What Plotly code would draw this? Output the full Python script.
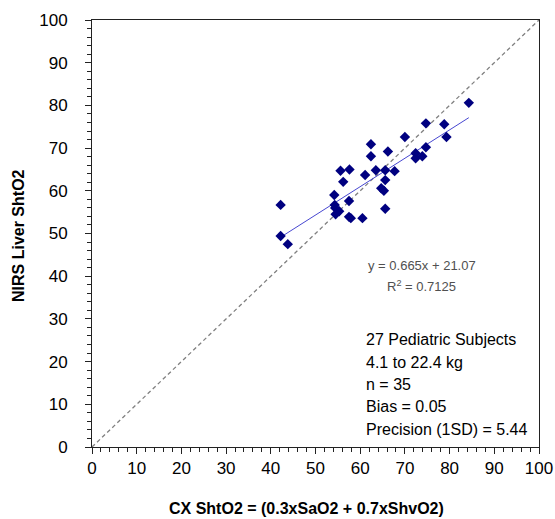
import plotly.graph_objects as go

# Data
cx_shto2 = [42.2, 42.2, 43.8, 54.2, 54.3, 54.4, 55.3, 54.5, 55.6, 56.2, 57.6, 57.5,
            57.5, 57.9, 60.5, 61.1, 62.4, 62.4, 63.5, 64.7, 65.3, 65.6, 65.6, 65.6,
            66.2, 67.7, 70.0, 72.4, 72.4, 73.9, 74.7, 74.7, 78.8, 79.3, 84.3]
nirs_shto2 = [56.7, 49.4, 47.5, 59.0, 56.7, 56.0, 55.2, 54.5, 64.7, 62.1, 65.0, 57.6,
              53.9, 53.6, 53.6, 63.7, 70.9, 68.1, 64.8, 60.6, 60.0, 64.8, 62.5, 55.8,
              69.2, 64.6, 72.6, 68.8, 67.6, 68.1, 70.2, 75.8, 75.6, 72.6, 80.6]

slope = 0.665
intercept = 21.07
r_squared = 0.7125
identity = [0, 100]

stats_lines = ["27 Pediatric Subjects", "4.1 to 22.4 kg", "n = 35",
               "Bias = 0.05", "Precision (1SD) = 5.44"]
stats_y = [25.1, 19.9, 14.75, 9.4, 4.0]

FONT = "Liberation Sans, Arial, sans-serif"

x_min, x_max = min(cx_shto2), max(cx_shto2)
trend_x = [x_min, x_max]
trend_y = [slope * v + intercept for v in trend_x]

fig = go.Figure()
fig.add_trace(go.Scatter(x=identity, y=identity, mode="lines",
                         line=dict(color="#808080", width=1.3, dash="4px,3px"),
                         hoverinfo="skip"))
fig.add_trace(go.Scatter(x=trend_x, y=trend_y, mode="lines",
                         line=dict(color="#4747d1", width=1)))
fig.add_trace(go.Scatter(x=cx_shto2, y=nirs_shto2, mode="markers",
                         marker=dict(symbol="diamond", size=8, color="#000080",
                                     line=dict(width=0))))

axis_common = dict(range=[0, 100], dtick=10, showgrid=False, zeroline=False,
                   showline=True, linecolor="#222222", linewidth=1, mirror=True,
                   ticks="outside", ticklen=6, tickcolor="#222222", automargin=False,
                   minor=dict(dtick=2, ticks="outside", ticklen=4, tickcolor="#222222"),
                   tickfont=dict(family=FONT, size=17, color="black"))

fig.update_layout(
    width=555, height=519,
    margin=dict(l=92, r=16, t=20, b=72),
    plot_bgcolor="white", paper_bgcolor="white",
    showlegend=False,
    xaxis=dict(**axis_common, ticklabelstandoff=0),
    yaxis=dict(**axis_common, ticklabelstandoff=14),
)

annotations = []
for txt, yy in zip(stats_lines, stats_y):
    annotations.append(dict(x=60.9, y=yy, xref="x", yref="y", text=txt,
                            showarrow=False, xanchor="left", yanchor="middle",
                            font=dict(family=FONT, size=16, color="black")))
annotations.append(dict(x=73.8, y=42.4, xref="x", yref="y",
                        text=f"y = {slope}x + {intercept}", showarrow=False,
                        xanchor="center", yanchor="middle",
                        font=dict(family=FONT, size=13, color="#505050")))
annotations.append(dict(x=73.8, y=37.6, xref="x", yref="y",
                        text=f"R<sup>2</sup> = {r_squared}", showarrow=False,
                        xanchor="center", yanchor="middle",
                        font=dict(family=FONT, size=13, color="#505050")))
annotations.append(dict(x=306, y=519 - 508, xref="paper", yref="paper",
                        text="<b>CX ShtO2 = (0.3xSaO2 + 0.7xShvO2)</b>", showarrow=False,
                        xanchor="center", yanchor="middle",
                        font=dict(family=FONT, size=16, color="black")))
annotations.append(dict(x=18, y=519 - 236, xref="paper", yref="paper",
                        text="<b>NIRS Liver ShtO2</b>", showarrow=False, textangle=-90,
                        xanchor="center", yanchor="middle",
                        font=dict(family=FONT, size=16, color="black")))
fig.update_layout(annotations=annotations)

# convert pixel-positioned titles to paper coordinates
pw, ph = 555 - 92 - 16, 519 - 20 - 72
for a in fig.layout.annotations:
    if a.xref == "paper":
        a.x = (a.x - 92) / pw
        a.y = (a.y - 72) / ph

fig.write_html("out.html", config={"displayModeBar": False},
               post_script="document.body.style.margin='0px';document.body.style.overflow='hidden';")
